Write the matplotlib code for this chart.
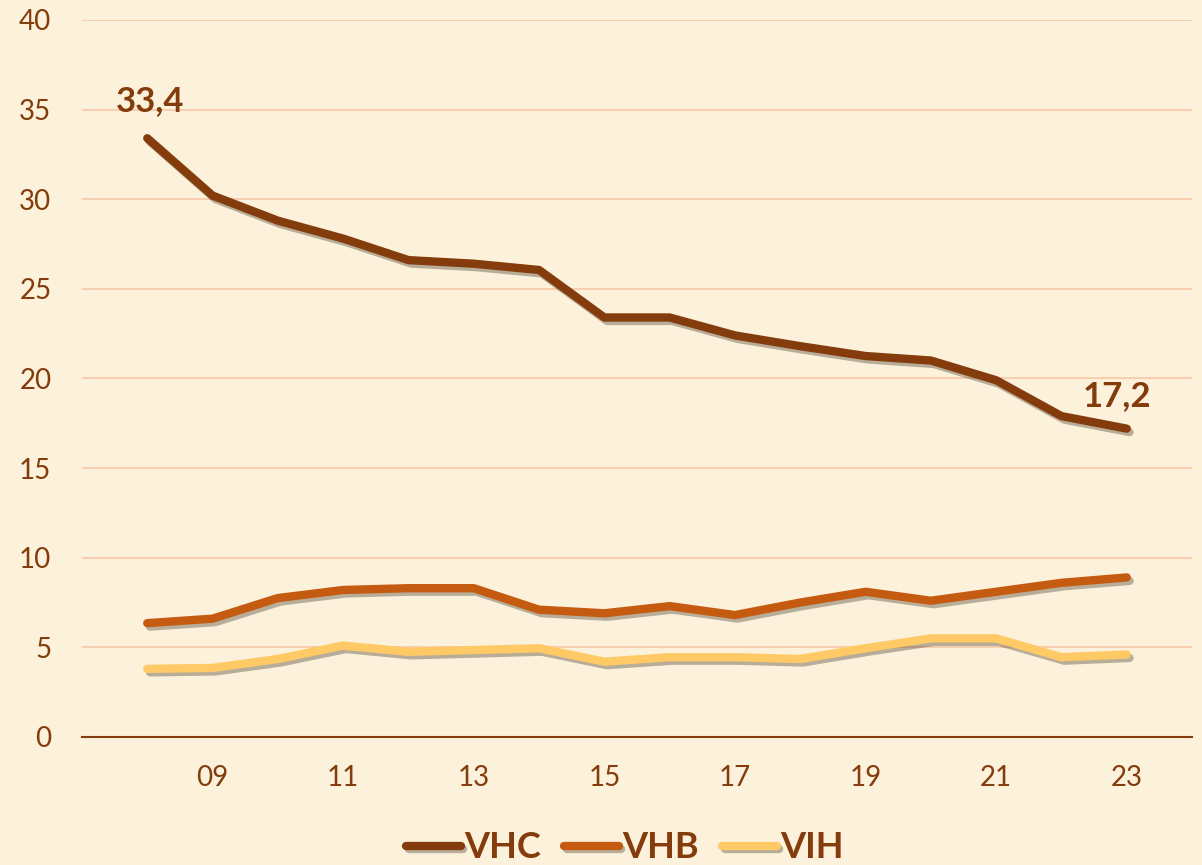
import matplotlib
matplotlib.use("Agg")
import matplotlib.pyplot as plt
import matplotlib.patheffects as pe

plt.rcParams['font.family'] = ['Lato', 'DejaVu Sans']

years = list(range(8, 24))
vhc = [33.4, 30.2, 28.8, 27.8, 26.6, 26.4, 26.05, 23.4, 23.4, 22.4, 21.8, 21.25, 21.0, 19.9, 17.9, 17.2]
vhb = [6.35, 6.6, 7.75, 8.2, 8.3, 8.3, 7.1, 6.9, 7.3, 6.8, 7.5, 8.1, 7.6, 8.1, 8.6, 8.9]
vih = [3.8, 3.85, 4.35, 5.1, 4.75, 4.85, 4.95, 4.2, 4.45, 4.45, 4.35, 4.95, 5.5, 5.5, 4.45, 4.6]
tick_years = [9, 11, 13, 15, 17, 19, 21, 23]

brown = '#843C0C'
bg = '#FCF1DA'

fig = plt.figure(figsize=(12.02, 8.65), dpi=100)
fig.patch.set_facecolor(bg)
ax = fig.add_axes([0.0682, 0.148, 0.9235, 0.829])
ax.set_facecolor(bg)

shadow = [pe.SimpleLineShadow(offset=(2, -2.5), shadow_color='#3a3020', alpha=0.35), pe.Normal()]
ax.plot(years, vih, color='#FFC965', lw=6, solid_capstyle='round', label='VIH', path_effects=shadow, zorder=3)
ax.plot(years, vhb, color='#C55A11', lw=6, solid_capstyle='round', label='VHB', path_effects=shadow, zorder=4)
ax.plot(years, vhc, color=brown, lw=6, solid_capstyle='round', label='VHC', path_effects=shadow, zorder=5)

ax.text(years[0] + 0.05, vhc[0] + 1.2, '33,4', ha='center', va='bottom', fontsize=25, fontweight='bold', color=brown)
ax.text(years[-1] - 0.15, vhc[-1] + 0.9, '17,2', ha='center', va='bottom', fontsize=25, fontweight='bold', color=brown)

ax.set_xlim(7, 24)
ax.set_ylim(0, 40)
ax.set_yticks(range(0, 41, 5))
ax.set_xticks(tick_years)
ax.set_xticklabels(['%02d' % y for y in tick_years])
ax.tick_params(length=0, colors=brown, labelsize=20, pad=20)
ax.tick_params(axis='y', pad=22)
ax.grid(axis='y', color='#F8CBAD', lw=1.3)
ax.set_axisbelow(True)
for s in ['top', 'right', 'left']:
    ax.spines[s].set_visible(False)
ax.spines['bottom'].set_color(brown)
ax.spines['bottom'].set_linewidth(1.5)
ax.spines['bottom'].set_zorder(2)

h, l = ax.get_legend_handles_labels()
order = [2, 1, 0]
leg = fig.legend([h[i] for i in order], [l[i] for i in order], loc='center', bbox_to_anchor=(0.52, 0.02),
                 ncol=3, frameon=False, handlelength=1.5, handletextpad=0.1, columnspacing=0.65,
                 prop={'size': 26, 'weight': 'bold'})
for t in leg.get_texts():
    t.set_color(brown)

fig.savefig('out.png', dpi=100, facecolor=bg)
